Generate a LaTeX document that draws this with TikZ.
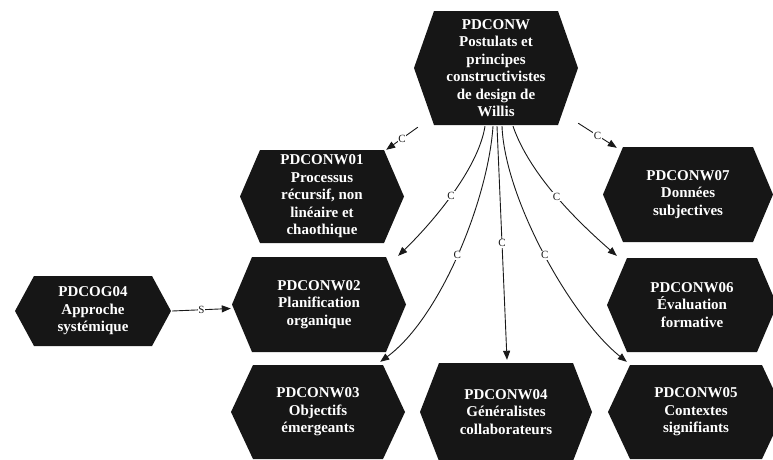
\documentclass[tikz,border=0pt]{standalone}
\usepackage{fontspec}
\setmainfont{Liberation Serif}
\usetikzlibrary{arrows.meta,calc}
\definecolor{hexblack}{HTML}{161616}
\tikzset{
  hexfill/.style={fill=hexblack},
  hextext/.style={text=white, font=\bfseries\fontsize{15}{17.5}\selectfont, align=center, inner sep=0pt},
  conn/.style={draw=black!90, line width=0.9pt, -{Triangle[length=9pt,width=7pt]}},
  clabel/.style={fill=white, inner sep=0.8pt, font=\fontsize{11}{11}\selectfont, text=black!90},
}
% hexagon: name, centre x, centre y, half flat width, half height, slant, text
\newcommand\hexnode[7]{%
  \fill[hexfill] ({#2-#4-#6},{#3}) -- ({#2-#4},{#3-#5}) -- ({#2+#4},{#3-#5})
    -- ({#2+#4+#6},{#3}) -- ({#2+#4},{#3+#5}) -- ({#2-#4},{#3+#5}) -- cycle;
  \node[hextext, minimum width={2*#4}, minimum height={2*#5}] (#1) at (#2,#3) {#7};
}
\begin{document}
\begin{tikzpicture}[x=1pt,y=-1pt]
\useasboundingbox (0,0) rectangle (773,459);

\hexnode{top}{496}{68}{62}{57}{20}{PDCONW\\Postulats et\\principes\\constructivistes\\de design de\\Willis}
\hexnode{w01}{322}{196.5}{62}{46.5}{20}{PDCONW01\\Processus\\récursif, non\\linéaire et\\chaothique}
\hexnode{w02}{319}{304.5}{67}{47.5}{20}{PDCONW02\\Planification\\organique}
\hexnode{w03}{318}{412}{65}{47}{22}{PDCONW03\\Objectifs\\émergeants}
\hexnode{w04}{506}{412}{67}{49}{19}{PDCONW04\\Généralistes\\collaborateurs}
\hexnode{w05}{696}{412}{66}{47}{22}{PDCONW05\\Contextes\\signifiants}
\hexnode{w06}{692}{305}{65}{47}{20}{PDCONW06\\Évaluation\\formative}
\hexnode{w07}{688}{194.5}{65}{47.5}{20}{PDCONW07\\Données\\subjectives}
\hexnode{g04}{93}{311}{59}{35}{19}{PDCOG04\\Approche\\systémique}

% links from the central node
\draw[conn] ($(top.south west)+(-16,2)$) -- ($(w01.north east)+(2,0)$) node[clabel,pos=0.5]{C};
\draw[conn] ($(top.south east)+(20,-2)$) -- ($(w07.north west)+(-6,1)$) node[clabel,pos=0.5]{C};
\draw[conn] ($(top.south)+(-11,1)$) .. controls +(-7,44) and +(32,-31) .. ($(w02.north east)+(12,-1)$) node[clabel,pos=0.5]{C};
\draw[conn] ($(top.south)+(-3,1)$) .. controls +(-5,74) and +(60,-44) .. ($(w03.north east)+(-3,-3)$) node[clabel,pos=0.5]{C};
\draw[conn] ($(top.south)+(1,1)$) -- ($(w04.north)+(1,-3)$) node[clabel,pos=0.5]{C};
\draw[conn] ($(top.south)+(6,1)$) .. controls +(3,74) and +(-55,-44) .. ($(w05.north west)+(-3,-3)$) node[clabel,pos=0.5]{C};
\draw[conn] ($(top.south)+(17,1)$) .. controls +(17,49) and +(-39,-34) .. ($(w06.north west)+(-10,-2)$) node[clabel,pos=0.5]{C};

% systemic approach link
\draw[conn] ($(g04.east)+(20,0)$) -- ($(w02.west)+(-21,4)$) node[clabel,pos=0.5]{S};
\end{tikzpicture}
\end{document}
